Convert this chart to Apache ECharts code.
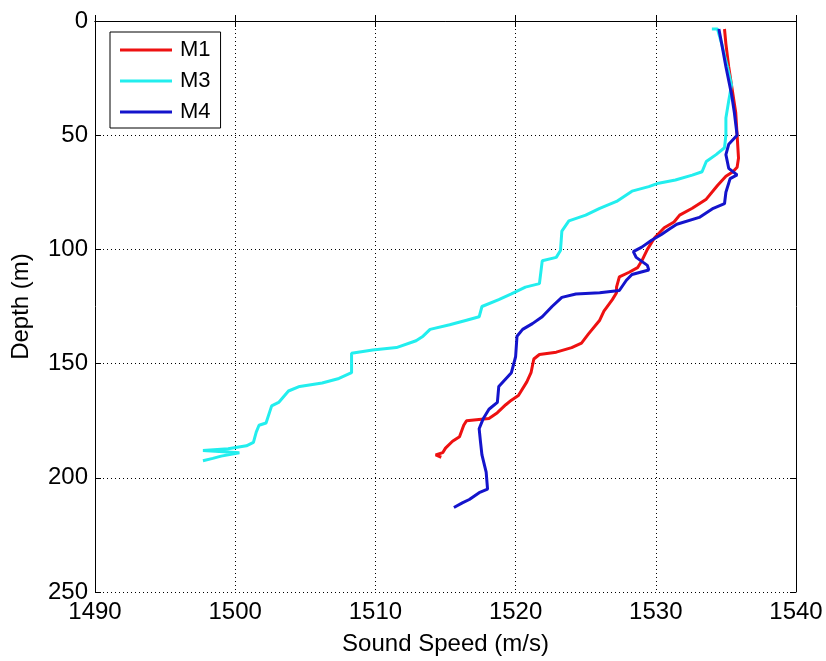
<!DOCTYPE html>
<html>
<head>
<meta charset="utf-8">
<script src="https://cdn.jsdelivr.net/npm/echarts@6/dist/echarts.min.js"></script>
<style>
  html, body { margin: 0; padding: 0; background: #fff; }
  #chart { width: 826px; height: 661px; }
</style>
</head>
<body>
<div id="chart"></div>
<script>
// Sound speed profiles (m/s) against depth (m) for three moorings
const seriesNames = ['M1', 'M3', 'M4'];
const seriesColors = ['#ee1111', '#22eeee', '#1414cc'];

const m1Depth = [3.5, 10, 20, 28, 40, 50, 60, 64, 66, 68, 72, 78, 82, 85, 88, 90.5, 95, 100, 105, 108, 110, 112, 116.5, 119, 122, 127, 131, 137, 141, 143, 145, 146, 148, 154, 158, 164, 166, 168, 171.5, 174, 175, 177, 182, 184, 187, 189, 190, 191];
const m1Speed = [1534.9, 1535.0, 1535.2, 1535.4, 1535.7, 1535.8, 1535.9, 1535.8, 1535.5, 1535.0, 1534.4, 1533.6, 1532.6, 1531.7, 1531.3, 1530.6, 1529.9, 1529.4, 1529.0, 1528.7, 1528.1, 1527.4, 1527.2, 1527.2, 1526.9, 1526.3, 1526.0, 1525.2, 1524.7, 1524.0, 1522.9, 1521.7, 1521.3, 1521.1, 1520.8, 1520.2, 1519.7, 1519.3, 1518.7, 1518.1, 1516.5, 1516.3, 1516.0, 1515.5, 1515.0, 1514.8, 1514.3, 1514.7];

const m3Depth = [3.5, 3.5, 10, 20, 28, 35, 42.5, 50, 55.5, 58.5, 61.5, 66, 67.5, 69.6, 71, 72.5, 74.5, 79, 82, 85, 87.5, 92, 100.5, 103.5, 105, 115, 116.5, 119.5, 122, 125, 129.5, 131, 133, 135, 138, 140, 143, 144, 145.5, 154, 156.5, 158.5, 160, 162, 167, 168.5, 176, 177, 180, 184.5, 186, 187.3, 188, 189, 190.5, 191.5, 192.5];
const m3Speed = [1534.0, 1534.4, 1534.7, 1535.1, 1535.4, 1535.2, 1535.0, 1535.0, 1534.9, 1534.3, 1533.6, 1533.3, 1532.6, 1531.4, 1530.2, 1529.5, 1528.3, 1527.2, 1526.0, 1525.0, 1523.8, 1523.3, 1523.2, 1522.9, 1521.9, 1521.7, 1520.7, 1519.7, 1518.8, 1517.6, 1517.4, 1516.5, 1515.3, 1513.9, 1513.4, 1512.9, 1511.5, 1509.8, 1508.3, 1508.3, 1507.4, 1506.2, 1504.6, 1503.8, 1503.1, 1502.6, 1502.2, 1501.7, 1501.5, 1501.3, 1500.8, 1499.5, 1497.7, 1500.3, 1499.0, 1498.4, 1497.7];

const m4Depth = [3.5, 10, 20, 32, 40, 50, 54, 58.5, 64.5, 67.4, 69, 75, 80, 82, 86, 89, 91, 93.5, 96, 99, 101, 103.5, 107, 109, 111, 113.5, 118, 119, 119.5, 121, 125, 129.5, 132.5, 135, 138, 147, 154, 160, 167, 170, 174, 178.5, 184.5, 190, 197.5, 205, 206.5, 209.5, 211, 213];
const m4Speed = [1534.5, 1534.7, 1535.0, 1535.4, 1535.6, 1535.8, 1535.2, 1535.0, 1535.2, 1535.8, 1535.3, 1535.0, 1534.9, 1534.1, 1533.1, 1531.5, 1531.0, 1530.4, 1529.7, 1529.0, 1528.4, 1528.6, 1529.4, 1529.5, 1528.3, 1527.9, 1527.4, 1526.0, 1524.3, 1523.3, 1522.6, 1521.9, 1521.2, 1520.5, 1520.1, 1520.0, 1519.7, 1518.8, 1518.7, 1518.1, 1517.7, 1517.4, 1517.5, 1517.6, 1517.9, 1518.0, 1517.4, 1516.7, 1516.2, 1515.6];

const speedTicks = [1490, 1500, 1510, 1520, 1530, 1540];
const depthTicks = [0, 50, 100, 150, 200, 250];

const profiles = [
  { depth: m1Depth, speed: m1Speed },
  { depth: m3Depth, speed: m3Speed },
  { depth: m4Depth, speed: m4Speed }
];

const font = 'Liberation Sans, Arial, Helvetica, sans-serif';
const gridBox = { left: 95, right: 30, top: 21, bottom: 63 };
const plainNumber = v => String(v);

const chart = echarts.init(document.getElementById('chart'), null, { renderer: 'canvas' });

const dotted = { show: true, lineStyle: { color: '#000', width: 1, type: [1, 3] } };

// Secondary axes only draw the box edges and inward ticks on top / right
const boxAxis = {
  axisLine: { show: true, lineStyle: { color: '#000', width: 1 } },
  axisTick: { show: true, inside: true, length: 6, lineStyle: { color: '#000' } },
  axisLabel: { show: false },
  splitLine: { show: false }
};

chart.setOption({
  backgroundColor: '#fff',
  animation: false,
  grid: Object.assign({ containLabel: false }, gridBox),
  legend: {
    data: seriesNames,
    orient: 'vertical',
    left: 110,
    top: 32,
    backgroundColor: '#fff',
    borderColor: '#000',
    borderWidth: 1,
    borderRadius: 0,
    padding: [7, 10, 5, 10],
    itemGap: 9,
    icon: 'rect',
    itemWidth: 52,
    itemHeight: 3,
    textStyle: { fontFamily: font, fontSize: 22, color: '#000', padding: [0, 0, 0, 3], lineHeight: 20 }
  },
  xAxis: [
    {
      type: 'value',
      min: speedTicks[0],
      max: speedTicks[speedTicks.length - 1],
      interval: speedTicks[1] - speedTicks[0],
      position: 'bottom',
      name: 'Sound Speed (m/s)',
      nameLocation: 'middle',
      nameGap: 40,
      nameTextStyle: { fontFamily: font, fontSize: 24, color: '#000' },
      axisLine: { show: true, lineStyle: { color: '#000', width: 1 } },
      axisTick: { show: true, inside: true, length: 6, lineStyle: { color: '#000' } },
      axisLabel: { fontFamily: font, fontSize: 24, color: '#000', margin: 8, formatter: plainNumber },
      splitLine: dotted
    },
    Object.assign({
      type: 'value',
      min: speedTicks[0],
      max: speedTicks[speedTicks.length - 1],
      interval: speedTicks[1] - speedTicks[0],
      position: 'top'
    }, boxAxis)
  ],
  yAxis: [
    {
      type: 'value',
      inverse: true,
      min: depthTicks[0],
      max: depthTicks[depthTicks.length - 1],
      interval: depthTicks[1] - depthTicks[0],
      position: 'left',
      name: 'Depth (m)',
      nameLocation: 'middle',
      nameGap: 62,
      nameRotate: 90,
      nameTextStyle: { fontFamily: font, fontSize: 24, color: '#000' },
      axisLine: { show: true, lineStyle: { color: '#000', width: 1 } },
      axisTick: { show: true, inside: true, length: 6, lineStyle: { color: '#000' } },
      axisLabel: { fontFamily: font, fontSize: 24, color: '#000', margin: 7, formatter: plainNumber },
      splitLine: dotted
    },
    Object.assign({
      type: 'value',
      inverse: true,
      min: depthTicks[0],
      max: depthTicks[depthTicks.length - 1],
      interval: depthTicks[1] - depthTicks[0],
      position: 'right'
    }, boxAxis)
  ],
  series: seriesNames.map((name, i) => ({
    name: name,
    type: 'line',
    xAxisIndex: 0,
    yAxisIndex: 0,
    symbol: 'none',
    smooth: false,
    color: seriesColors[i],
    lineStyle: { color: seriesColors[i], width: 3 },
    data: profiles[i].depth.map((d, k) => [profiles[i].speed[k], d])
  }))
});
</script>
</body>
</html>
